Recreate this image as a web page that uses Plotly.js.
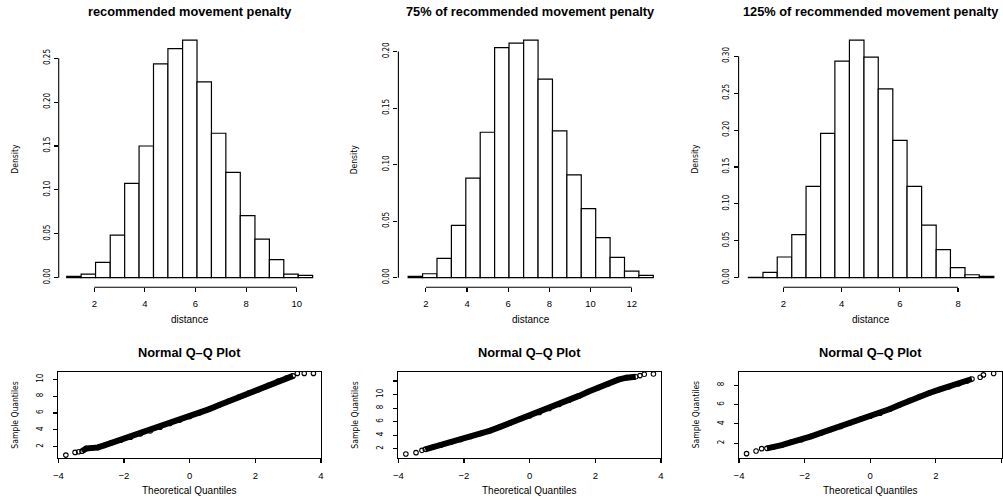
<!DOCTYPE html>
<html><head><meta charset="utf-8">
<script src="https://cdn.plot.ly/plotly-3.0.1.min.js"></script>
<style>html,body{margin:0;padding:0;background:#fff}#chart{width:1003px;height:500px}</style>
</head><body><div id="chart"></div>
<script>
// ---- data ----
const histTitles = ["recommended movement penalty", "75% of recommended movement penalty", "125% of recommended movement penalty"];
const qqTitle = "Normal Q\u2013Q Plot";

const histEdges1 = [0.91, 1.48, 2.05, 2.63, 3.20, 3.77, 4.34, 4.91, 5.49, 6.06, 6.63, 7.20, 7.77, 8.35, 8.92, 9.49, 10.06, 10.63];
const histDensity1 = [0.0015, 0.004, 0.0175, 0.0486, 0.1075, 0.150, 0.2435, 0.261, 0.2705, 0.223, 0.1645, 0.120, 0.0707, 0.044, 0.0205, 0.004, 0.0027];

const histEdges2 = [1.14, 1.84, 2.54, 3.24, 3.94, 4.64, 5.34, 6.04, 6.75, 7.45, 8.15, 8.85, 9.55, 10.25, 10.95, 11.65, 12.35, 13.05];
const histDensity2 = [0.0012, 0.0035, 0.017, 0.0463, 0.088, 0.1286, 0.2035, 0.2074, 0.210, 0.1755, 0.1298, 0.0909, 0.061, 0.0354, 0.018, 0.0059, 0.002];

const histEdges3 = [0.80, 1.30, 1.79, 2.29, 2.78, 3.28, 3.77, 4.27, 4.77, 5.26, 5.76, 6.25, 6.75, 7.25, 7.74, 8.24, 8.73, 9.23];
const histDensity3 = [0.0004, 0.0072, 0.028, 0.0582, 0.1236, 0.1954, 0.2933, 0.3217, 0.2987, 0.2559, 0.186, 0.1236, 0.0713, 0.0379, 0.0135, 0.004, 0.0018];

const histXTicks1 = [2, 4, 6, 8, 10];
const histXTicks2 = [2, 4, 6, 8, 10, 12];
const histXTicks3 = [2, 4, 6, 8];
const histYTicks1 = [0, 0.05, 0.10, 0.15, 0.20, 0.25];
const histYTicks2 = [0, 0.05, 0.10, 0.15, 0.20];
const histYTicks3 = [0, 0.05, 0.10, 0.15, 0.20, 0.25, 0.30];
const histYLabels1 = ["0.00", "0.05", "0.10", "0.15", "0.20", "0.25"];
const histYLabels2 = ["0.00", "0.05", "0.10", "0.15", "0.20"];
const histYLabels3 = ["0.00", "0.05", "0.10", "0.15", "0.20", "0.25", "0.30"];

const qqX1 = [-3.77, -3.49, -3.38, -3.28, -3.15, -2.95, -2.8, -2.6, -2.4, -2.1, -1.8, -1.5, -1.2, -0.9, -0.6, -0.3, 0, 0.3, 0.6, 0.9, 1.2, 1.5, 1.8, 2.1, 2.4, 2.7, 2.95, 3.15, 3.28, 3.49, 3.77];
const qqY1 = [0.99, 1.31, 1.39, 1.45, 1.78, 1.85, 1.9, 2.15, 2.42, 2.77, 3.12, 3.5, 3.86, 4.32, 4.74, 5.16, 5.6, 6.0, 6.47, 6.95, 7.42, 7.9, 8.38, 8.8, 9.3, 9.8, 10.15, 10.42, 10.72, 10.72, 10.72];

const qqX2 = [-3.77, -3.46, -3.28, -3.18, -2.95, -2.7, -2.4, -2.1, -1.8, -1.5, -1.2, -0.9, -0.6, -0.3, 0, 0.3, 0.6, 0.9, 1.2, 1.5, 1.8, 2.1, 2.4, 2.7, 2.95, 3.23, 3.36, 3.49, 3.77];
const qqY2 = [1.22, 1.41, 1.75, 1.9, 2.2, 2.55, 2.95, 3.37, 3.8, 4.25, 4.68, 5.23, 5.8, 6.35, 6.83, 7.35, 7.95, 8.55, 9.15, 9.8, 10.45, 11.05, 11.6, 12.2, 12.5, 12.63, 12.8, 13.0, 13.05];

const qqX3 = [-3.77, -3.48, -3.31, -3.15, -2.95, -2.7, -2.4, -2.1, -1.8, -1.5, -1.2, -0.9, -0.6, -0.3, 0, 0.3, 0.6, 0.9, 1.2, 1.5, 1.8, 2.1, 2.4, 2.7, 2.95, 3.1, 3.35, 3.45, 3.76];
const qqY3 = [0.9, 1.17, 1.42, 1.45, 1.58, 1.78, 2.1, 2.35, 2.7, 3.05, 3.4, 3.73, 4.1, 4.48, 4.78, 5.1, 5.53, 5.97, 6.42, 6.83, 7.2, 7.55, 7.85, 8.15, 8.45, 8.65, 8.83, 9.08, 9.22];

const qqXTicks = [-4, -2, 0, 2, 4];
const qqYTicks1 = [2, 4, 6, 8, 10];
const qqYTicks2 = [2, 4, 6, 8, 10, 12];
const qqYLabels2 = ["2", "4", "6", "8", "10", ""];
const qqYTicks3 = [2, 4, 6, 8];

// ---- layout constants ----
const W = 1003, H = 500;
const fontH = "Liberation Sans, Arial, sans-serif";
const fontV = "Liberation Sans Narrow, DejaVu Sans Condensed, Liberation Sans, sans-serif";

const histDom = [[58.7, 322], [398.4, 663.2], [738.6, 1003]];
const histXRange = [[0.593, 11.0], [0.665, 13.53], [0.463, 9.545]];
const histYRange = [[-0.0108, 0.2813], [-0.0084, 0.2184], [-0.0129, 0.3346]];
const histYPix = [30.7, 287.2];

const qqDom = [[58.3, 321], [398.3, 661], [739, 1001.5]];
const qqYRange = [[0.645, 10.92], [0.62, 13.38], [0.45, 9.41]];
const qqYPix = [371.7, 458.0];

const histData = [[histEdges1, histDensity1], [histEdges2, histDensity2], [histEdges3, histDensity3]];
const histXT = [histXTicks1, histXTicks2, histXTicks3];
const histYT = [histYTicks1, histYTicks2, histYTicks3];
const histYL = [histYLabels1, histYLabels2, histYLabels3];
const qqData = [[qqX1, qqY1], [qqX2, qqY2], [qqX3, qqY3]];
const qqYT = [qqYTicks1, qqYTicks2, qqYTicks3];
const qqYL = [qqYTicks1.map(String), qqYLabels2, qqYTicks3.map(String)];

const traces = [];
const layout = {
  width: W, height: H, margin: {l: 0, r: 0, t: 0, b: 0},
  paper_bgcolor: "white", plot_bgcolor: "white", showlegend: false,
  shapes: [], annotations: []
};

const base = {
  showgrid: false, zeroline: false, ticks: "outside", ticklen: 4, tickwidth: 1.1,
  tickcolor: "black", linecolor: "black", linewidth: 1.1, fixedrange: true,
  tickmode: "array", color: "black"
};

function ax(i) { return i === 1 ? "" : String(i); }

for (let p = 0; p < 3; p++) {
  const i = p + 1, s = ax(i);
  const [edges, dens] = histData[p];
  traces.push({
    type: "bar", xaxis: "x" + s, yaxis: "y" + s,
    x: dens.map((_, k) => (edges[k] + edges[k + 1]) / 2),
    y: dens,
    width: dens.map((_, k) => edges[k + 1] - edges[k]),
    marker: {color: "white", line: {color: "black", width: 1.2}},
    hoverinfo: "skip"
  });
  layout["xaxis" + s] = Object.assign({}, base, {
    domain: [histDom[p][0] / W, histDom[p][1] / W], range: histXRange[p], anchor: "y" + s,
    showline: false, tickvals: histXT[p], ticktext: histXT[p].map(String),
    tickfont: {family: fontH, size: 9.5, color: "black"}, ticklabelstandoff: 3
  });
  layout["yaxis" + s] = Object.assign({}, base, {
    domain: [1 - histYPix[1] / H, 1 - histYPix[0] / H], range: histYRange[p], anchor: "x" + s,
    showline: false, tickvals: histYT[p], ticktext: histYL[p], tickangle: -90,
    tickfont: {family: fontV, size: 8, color: "black"}, ticklabelstandoff: 1
  });
  const xt = histXT[p], yt = histYT[p];
  layout.shapes.push({type: "line", xref: "x" + s, yref: "y" + s + " domain",
    x0: xt[0], x1: xt[xt.length - 1], y0: 0, y1: 0, line: {color: "black", width: 1.1}});
  layout.shapes.push({type: "line", xref: "x" + s + " domain", yref: "y" + s,
    x0: 0, x1: 0, y0: yt[0], y1: yt[yt.length - 1], line: {color: "black", width: 1.1}});
  layout.annotations.push({text: "<b>" + histTitles[p] + "</b>", xref: "x" + s + " domain", x: 0.5,
    yref: "paper", y: 1 - 11.7 / H, yanchor: "middle", showarrow: false,
    font: {family: fontH, size: 12.8, color: "black"}});
  layout.annotations.push({text: "distance", xref: "x" + s + " domain", x: 0.5,
    yref: "paper", y: 1 - 319.3 / H, yanchor: "middle", showarrow: false,
    font: {family: fontH, size: 10, color: "black"}});
  layout.annotations.push({text: "Density", xref: "x" + s + " domain", x: 0, xshift: -44,
    yref: "y" + s + " domain", y: 0.5, xanchor: "center", yanchor: "middle", textangle: -90, showarrow: false,
    font: {family: fontV, size: 8.5, color: "black"}});
}

for (let p = 0; p < 3; p++) {
  const i = p + 4, s = ax(i);
  const [qx, qy] = qqData[p];
  traces.push({
    type: "scatter", mode: "lines", xaxis: "x" + s, yaxis: "y" + s,
    x: qx.slice(3, -3), y: qy.slice(3, -3),
    line: {color: "black", width: 6}, hoverinfo: "skip"
  });
  traces.push({
    type: "scatter", mode: "markers", xaxis: "x" + s, yaxis: "y" + s,
    x: qx, y: qy,
    marker: {symbol: "circle-open", size: 4.5, color: "black", line: {width: 1.1, color: "black"}},
    hoverinfo: "skip"
  });
  layout["xaxis" + s] = Object.assign({}, base, {
    domain: [qqDom[p][0] / W, qqDom[p][1] / W], range: [-4, 4], anchor: "y" + s,
    showline: true, mirror: true, tickvals: qqXTicks, ticktext: qqXTicks.map(v => v < 0 ? "\u2212" + (-v) : String(v)),
    tickfont: {family: fontH, size: 9.5, color: "black"}, ticklabelstandoff: 4
  });
  layout["yaxis" + s] = Object.assign({}, base, {
    domain: [1 - qqYPix[1] / H, 1 - qqYPix[0] / H], range: qqYRange[p], anchor: "x" + s,
    showline: true, mirror: true, tickvals: qqYT[p], ticktext: qqYL[p], tickangle: -90,
    tickfont: {family: fontV, size: 8, color: "black"}, ticklabelstandoff: 7
  });
  layout.annotations.push({text: "<b>" + qqTitle + "</b>", xref: "x" + s + " domain", x: 0.5,
    yref: "paper", y: 1 - 352.7 / H, yanchor: "middle", showarrow: false,
    font: {family: fontH, size: 12.8, color: "black"}});
  layout.annotations.push({text: "Theoretical Quantiles", xref: "x" + s + " domain", x: 0.5,
    yref: "paper", y: 1 - 490.8 / H, yanchor: "middle", showarrow: false,
    font: {family: fontH, size: 10, color: "black"}});
  layout.annotations.push({text: "Sample Quantiles", xref: "x" + s + " domain", x: 0, xshift: -43.5,
    yref: "y" + s + " domain", y: 0.5, xanchor: "center", yanchor: "middle", textangle: -90, showarrow: false,
    font: {family: fontV, size: 8.5, color: "black"}});
}

layout.bargap = 0;
Plotly.newPlot("chart", traces, layout, {displayModeBar: false, staticPlot: true});
</script>
</body></html>
